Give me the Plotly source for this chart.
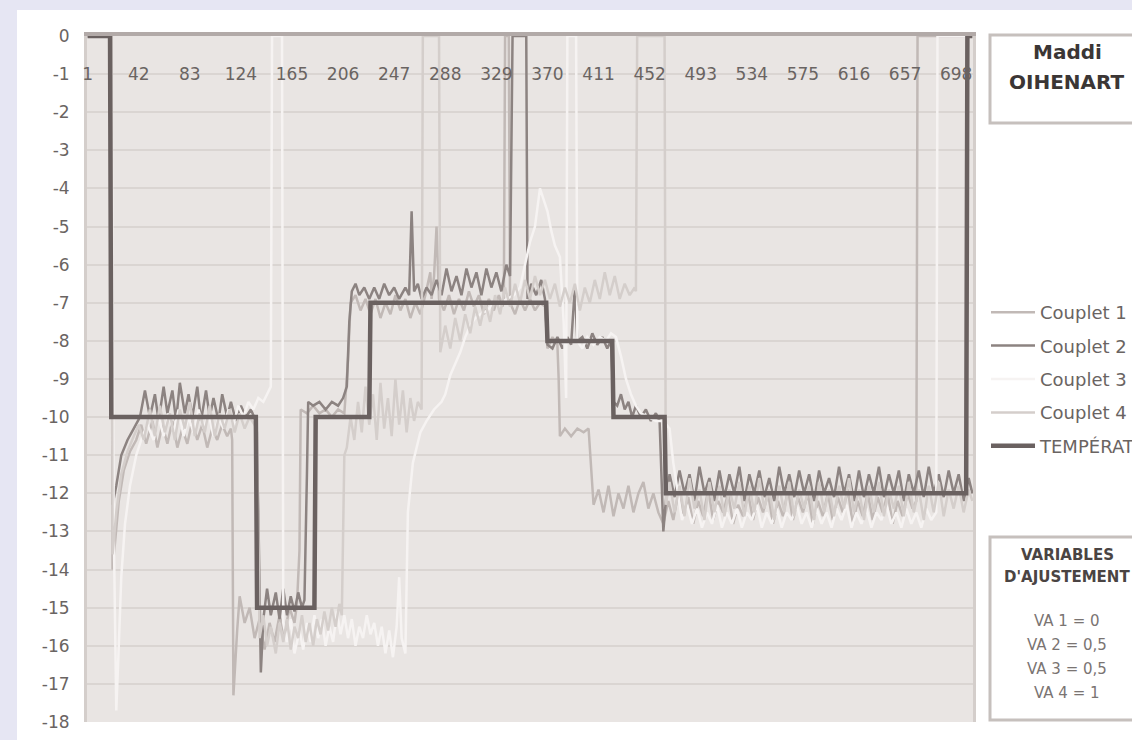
import plotly.graph_objects as go

W, H = 1132, 740

# ---- data -------------------------------------------------------------
x_tick_vals = [1, 42, 83, 124, 165, 206, 247, 288, 329, 370, 411, 452, 493, 534, 575, 616, 657, 698]
x_tick_text = [str(v) for v in x_tick_vals]
y_tick_vals = list(range(0, -19, -1))
y_tick_text = ["0", "-1", "-2", "-3", "-4", "-5", "-6", "-7", "-8", "-9", "-10",
               "-11", "-12", "-13", "-14", "-15", "-16", "-17", "-18"]

temp_x = [1, 19, 20, 136, 137, 183, 184, 227, 228, 369, 370, 422, 423, 464, 465, 706, 707, 711]
temp_y = [0, 0, -10, -10, -15, -15, -10, -10, -7, -7, -8, -8, -10, -10, -12, -12, 0, 0]

c1_x = [1, 20, 21, 23, 26, 30, 35, 40, 44, 48, 53, 57, 61, 65, 69, 73, 77, 81, 85, 89, 93, 97, 101, 105,
        109, 113, 116, 117, 118, 121, 123, 127, 131, 135, 139, 143, 147, 151, 155, 159, 163, 167, 169, 171,
        172, 177, 182, 187, 192, 197, 202, 207, 210, 212, 216, 220, 224, 228, 232, 236, 240, 244, 248, 252,
        256, 260, 264, 268, 272, 276, 277, 279, 281, 283, 287, 291, 295, 299, 303, 307, 311, 315, 319, 323,
        327, 331, 334, 335, 336, 339, 340, 344, 348, 352, 356, 360, 364, 368, 370, 374, 378, 379, 380, 384,
        389, 394, 399, 403, 405, 407, 411, 415, 419, 423, 427, 431, 435, 439, 443, 447, 451, 455, 459, 463,
        467, 471, 475, 479, 483, 487, 491, 495, 499, 503, 507, 511, 515, 519, 523, 527, 531, 535, 539, 543,
        547, 551, 555, 559, 563, 567, 571, 575, 579, 583, 587, 591, 595, 599, 603, 607, 611, 615, 619, 623,
        627, 631, 635, 639, 643, 647, 651, 655, 659, 663, 666, 667, 711]
c1_y = [0, 0, -14.0, -13.3, -12.2, -11.4, -10.9, -10.6, -10.2, -10.7, -10.1, -10.8, -10.2, -10.7, -10.1,
        -10.8, -10.3, -10.7, -10.1, -10.6, -10.2, -10.8, -10.3, -10.6, -10.2, -10.5, -10.3, -10.6, -17.3,
        -15.6, -14.7, -15.4, -15.0, -15.8, -15.3, -16.1, -15.4, -15.9, -15.2, -15.7, -15.0, -15.4, -14.9,
        -13.5, -9.8, -9.9, -9.7, -9.9, -9.8, -10.0, -9.8, -9.9, -8.5, -7.0, -6.8, -7.2, -6.9, -7.3, -6.9,
        -7.4, -7.0, -7.3, -6.8, -7.2, -6.9, -7.4, -7.0, -7.3, -6.8, -6.2, -6.9, -6.3, -5.0, -6.9, -7.2,
        -6.8, -7.3, -6.9, -7.2, -6.7, -7.1, -6.8, -7.3, -6.9, -7.2, -6.8, -7.1, -6.9, 0, 0, -7.0, -7.3,
        -6.9, -7.2, -6.9, -7.2, -7.0, -7.1, -8.2, -7.9, -8.1, -9.0, -10.5, -10.3, -10.5, -10.3, -10.4,
        -10.3, -11.2, -12.3, -11.9, -12.5, -11.8, -12.6, -12.0, -12.4, -11.8, -12.5, -12.0, -11.7, -12.4,
        -12.0, -12.5, -12.8, -12.2, -12.7, -12.0, -12.6, -12.1, -12.8, -12.2, -12.6, -11.9, -12.7, -12.2,
        -12.5, -12.0, -12.8, -12.3, -12.6, -12.0, -12.7, -12.1, -12.5, -12.0, -12.8, -12.2, -12.6, -11.9,
        -12.7, -12.1, -12.5, -12.0, -12.8, -12.2, -12.6, -12.0, -12.7, -12.1, -12.5, -11.9, -12.8, -12.2,
        -12.6, -12.0, -12.7, -12.1, -12.5, -12.0, -12.8, -12.2, -12.6, -12.0, -12.4, -12.2, 0, 0]

c2_x = [1, 20, 21, 24, 28, 33, 38, 43, 47, 51, 55, 58, 62, 65, 69, 72, 75, 79, 82, 85, 89, 92, 96, 99,
        102, 106, 109, 113, 116, 120, 124, 128, 132, 136, 138, 140, 142, 145, 148, 152, 155, 158, 161, 164,
        167, 170, 173, 175, 177, 178, 182, 187, 192, 197, 202, 206, 209, 211, 213, 216, 219, 223, 227, 231,
        235, 239, 243, 247, 251, 256, 259, 261, 263, 266, 269, 273, 277, 281, 285, 289, 293, 297, 301, 305,
        309, 313, 317, 321, 325, 329, 333, 337, 340, 342, 353, 354, 357, 361, 365, 368, 370, 374, 378, 382,
        386, 389, 392, 394, 398, 402, 406, 410, 414, 418, 421, 423, 426, 429, 432, 435, 438, 441, 445, 449,
        453, 457, 460, 463, 465, 468, 472, 476, 480, 484, 488, 492, 496, 500, 504, 508, 512, 516, 520, 524,
        528, 532, 536, 540, 544, 548, 552, 556, 560, 564, 568, 572, 576, 580, 584, 588, 592, 596, 600, 604,
        608, 612, 616, 620, 624, 628, 632, 636, 640, 644, 648, 652, 656, 660, 664, 668, 672, 676, 680, 684,
        688, 692, 696, 700, 704, 708, 711]
c2_y = [0, 0, -12.3, -11.8, -11.0, -10.6, -10.3, -10.0, -9.3, -10.0, -9.4, -10.1, -9.2, -9.9, -9.3, -10.1,
        -9.1, -9.9, -9.4, -10.0, -9.2, -10.1, -9.3, -10.0, -9.5, -10.1, -9.4, -10.0, -9.6, -10.1, -9.7,
        -10.0, -9.8, -10.1, -12.5, -16.7, -15.3, -14.5, -15.2, -14.6, -15.3, -14.5, -15.2, -14.7, -15.1,
        -14.6, -15.0, -14.8, -11.5, -9.6, -9.7, -9.6, -9.8, -9.6, -9.7, -9.5, -9.2, -7.5, -6.7, -6.5, -6.8,
        -6.6, -6.9, -6.6, -6.9, -6.5, -6.8, -6.6, -6.9, -6.6, -6.8, -4.6, -6.7, -6.5, -6.9, -6.6, -6.8,
        -6.4, -6.8, -6.1, -6.7, -6.3, -6.8, -6.1, -6.6, -6.2, -6.8, -6.1, -6.6, -6.2, -6.7, -6.0, -6.3, 0,
        0, -6.9, -6.5, -6.8, -6.4, -6.9, -8.1, -8.2, -7.9, -8.2, -7.9, -8.1, -6.6, -8.0, -7.9, -8.2, -7.8,
        -8.1, -7.9, -8.2, -8.0, -9.6, -9.7, -9.4, -9.8, -9.6, -10.0, -9.7, -10.0, -9.8, -10.1, -9.9, -10.1,
        -13.0, -12.2, -11.5, -12.1, -11.4, -12.0, -11.5, -12.2, -11.3, -12.0, -11.6, -12.2, -11.4, -12.1,
        -11.5, -12.0, -11.3, -12.2, -11.5, -12.0, -11.4, -12.1, -11.6, -12.2, -11.3, -12.0, -11.5, -12.1,
        -11.4, -12.0, -11.5, -12.2, -11.4, -12.0, -11.6, -12.1, -11.3, -12.0, -11.5, -12.2, -11.4, -12.1,
        -11.5, -12.0, -11.3, -12.1, -11.5, -12.0, -11.4, -12.2, -11.5, -12.0, -11.4, -12.1, -11.3, -12.0,
        -11.5, -12.1, -11.4, -12.0, -11.5, -12.2, -11.6, -12.0]

c3_x = [1, 20, 22, 24, 26, 28, 31, 35, 40, 45, 49, 54, 58, 62, 66, 70, 74, 78, 82, 86, 90, 94, 98, 102,
        106, 110, 114, 118, 122, 126, 130, 134, 138, 142, 145, 148, 149, 157, 158, 161, 164, 167, 171, 174,
        177, 180, 183, 186, 189, 192, 195, 198, 201, 204, 207, 210, 213, 216, 219, 222, 225, 228, 231, 234,
        237, 240, 243, 246, 249, 251, 253, 256, 258, 262, 268, 273, 279, 285, 288, 292, 296, 300, 304, 308,
        312, 316, 322, 327, 332, 338, 343, 348, 352, 356, 360, 362, 364, 367, 370, 373, 376, 380, 383, 385,
        386, 393, 394, 398, 402, 407, 412, 417, 421, 425, 429, 433, 437, 441, 445, 451, 457, 463, 468, 471,
        475, 478, 482, 486, 490, 494, 498, 502, 506, 510, 514, 518, 522, 526, 530, 534, 538, 542, 546, 550,
        554, 558, 562, 566, 570, 574, 578, 582, 586, 590, 594, 598, 602, 606, 610, 614, 618, 622, 626, 630,
        634, 638, 642, 646, 650, 654, 658, 662, 666, 670, 674, 678, 682, 683, 711]
c3_y = [0, 0, -13.0, -17.7, -16.0, -14.2, -12.8, -11.8, -11.0, -10.5, -10.2, -10.6, -10.0, -10.5, -9.9,
        -10.4, -9.8, -10.5, -10.0, -10.4, -9.8, -10.3, -9.9, -10.5, -10.0, -10.3, -9.8, -10.2, -9.7, -10.0,
        -9.6, -9.8, -9.5, -9.6, -9.4, -9.2, 0, 0, -15.4, -15.9, -15.3, -16.2, -15.6, -16.1, -15.4, -15.9,
        -15.2, -15.8, -15.3, -16.0, -15.5, -15.9, -15.1, -15.7, -15.2, -15.8, -15.3, -16.0, -15.5, -15.8,
        -15.2, -15.7, -15.4, -16.0, -15.5, -16.2, -15.6, -16.3, -15.5, -14.2, -15.8, -16.2, -12.5, -11.2,
        -10.4, -10.1, -9.8, -9.6, -9.4, -8.9, -8.6, -8.3, -7.9, -7.6, -7.4, -7.3, -7.2, -7.0, -7.0, -6.9,
        -6.8, -6.6, -6.0, -5.4, -5.0, -4.5, -4.0, -4.3, -4.6, -5.1, -5.5, -5.8, -7.5, -9.5, 0, 0, -8.0,
        -8.2, -7.9, -8.1, -7.9, -8.0, -7.8, -7.9, -8.4, -9.0, -9.4, -9.7, -9.9, -10.0, -10.1, -10.1, -10.3,
        -11.2, -12.0, -12.7, -12.3, -12.8, -12.4, -12.9, -12.5, -12.8, -12.3, -12.9, -12.5, -12.8, -12.4,
        -12.9, -12.5, -12.7, -12.3, -12.9, -12.5, -12.8, -12.4, -12.9, -12.5, -12.7, -12.3, -12.8, -12.5,
        -12.9, -12.4, -12.8, -12.5, -12.9, -12.4, -12.7, -12.3, -12.9, -12.5, -12.8, -12.4, -12.9, -12.5,
        -12.7, -12.3, -12.8, -12.5, -12.9, -12.4, -12.8, -12.5, -12.9, -12.4, -12.7, -12.5, 0, 0]

c4_x = [1, 20, 21, 24, 28, 33, 38, 42, 46, 51, 55, 59, 63, 67, 71, 75, 79, 83, 87, 91, 95, 99, 103, 107,
        111, 115, 119, 123, 127, 131, 135, 137, 139, 142, 145, 148, 152, 155, 158, 161, 164, 167, 170, 173,
        176, 179, 182, 185, 188, 191, 194, 197, 200, 203, 205, 207, 209, 212, 215, 218, 221, 224, 227, 230,
        233, 236, 239, 242, 245, 248, 251, 254, 257, 260, 263, 266, 269, 270, 283, 284, 288, 292, 296, 300,
        304, 308, 312, 316, 320, 324, 328, 332, 336, 340, 344, 348, 352, 356, 360, 364, 368, 372, 376, 380,
        384, 388, 392, 396, 400, 404, 408, 412, 416, 420, 424, 428, 432, 436, 440, 441, 442, 464, 465, 468,
        472, 476, 480, 484, 488, 492, 496, 500, 504, 508, 512, 516, 520, 524, 528, 532, 536, 540, 544, 548,
        552, 556, 560, 564, 568, 572, 576, 580, 584, 588, 592, 596, 600, 604, 608, 612, 616, 620, 624, 628,
        632, 636, 640, 644, 648, 652, 656, 660, 664, 668, 672, 676, 680, 684, 688, 692, 696, 700, 704, 708,
        711]
c4_y = [0, 0, -13.6, -12.5, -11.5, -10.9, -10.5, -10.2, -10.6, -9.8, -10.5, -9.7, -10.4, -9.9, -10.6,
        -9.8, -10.3, -9.6, -10.5, -9.9, -10.4, -9.7, -10.5, -9.9, -10.3, -9.8, -10.4, -9.9, -10.3, -10.0,
        -10.2, -10.4, -15.8, -15.2, -16.0, -15.5, -16.2, -15.4, -15.9, -15.3, -16.1, -15.5, -15.8, -15.2,
        -15.9, -15.4, -16.0, -15.3, -15.7, -15.1, -15.6, -15.0, -15.5, -14.9, -15.2, -11.0, -10.8, -10.0,
        -10.6, -9.6, -10.4, -9.2, -10.2, -9.4, -10.6, -9.1, -10.3, -9.5, -10.5, -9.0, -10.2, -9.3, -10.4,
        -9.5, -10.1, -9.6, -9.8, 0, 0, -8.3, -7.6, -8.2, -7.4, -8.0, -7.3, -7.8, -7.1, -7.6, -7.0, -7.5,
        -6.8, -7.3, -6.6, -7.1, -6.5, -7.0, -6.4, -6.9, -6.3, -6.8, -6.4, -6.9, -6.5, -7.1, -6.6, -7.0,
        -6.5, -7.2, -6.6, -7.0, -6.4, -6.9, -6.2, -6.8, -6.3, -6.9, -6.5, -6.8, -6.6, -6.7, 0, 0, -12.3,
        -11.7, -12.5, -11.8, -12.6, -11.6, -12.4, -11.9, -12.7, -11.7, -12.5, -11.8, -12.6, -11.9, -12.4,
        -11.7, -12.6, -11.8, -12.5, -11.6, -12.4, -11.9, -12.7, -11.8, -12.5, -11.7, -12.6, -11.9, -12.4,
        -11.8, -12.7, -11.7, -12.5, -11.9, -12.6, -11.8, -12.4, -11.6, -12.5, -11.9, -12.7, -11.8, -12.5,
        -11.7, -12.6, -11.9, -12.4, -11.8, -12.6, -11.7, -12.5, -11.9, -12.7, -11.8, -12.5, -11.7, -12.6,
        -11.9, -12.4, -11.8, -12.5, -11.9, -12.2]

series_names = ["Couplet 1", "Couplet 2", "Couplet 3", "Couplet 4", "TEMPÉRATURE"]

title_lines = ["Maddi", "OIHENART"]
va_title = ["VARIABLES", "D'AJUSTEMENT"]
va_lines = ["VA 1 = 0", "VA 2 = 0,5", "VA 3 = 0,5", "VA 4 = 1"]

# ---- styling ----------------------------------------------------------
FONT = "DejaVu Sans"
TXT = "#6a6462"
colors = ["#c1b9b6", "#8c8381", "#f6f3f2", "#d4cecb", "#6a6160"]
widths = [2.5, 2.5, 2.5, 2.5, 4.5]


def px(x):
    return x / W


def py(y):
    return 1 - y / H


fig = go.Figure()
series = [(c1_x, c1_y), (c2_x, c2_y), (c3_x, c3_y), (c4_x, c4_y), (temp_x, temp_y)]
for k, ((xs, ys), name) in enumerate(zip(series, series_names)):
    fig.add_trace(go.Scatter(
        x=xs, y=ys, name=name, mode="lines",
        line=dict(color=colors[k], width=widths[k]),
        xaxis="x2" if k == 4 else "x", yaxis="y",
        legendgroup=name, hoverinfo="skip",
    ))

x_range = [0.5, 711.5]
fig.update_layout(
    width=W, height=H,
    margin=dict(l=0, r=0, t=0, b=0, autoexpand=False),
    paper_bgcolor="white",
    plot_bgcolor="#e9e5e3",
    font=dict(family=FONT, size=17, color=TXT),
    showlegend=True,
    legend=dict(
        x=px(986), y=py(294), xanchor="left", yanchor="top",
        bgcolor="rgba(0,0,0,0)", font=dict(family=FONT, size=18, color=TXT),
        itemwidth=44, tracegroupgap=7, traceorder="grouped",
    ),
    xaxis=dict(
        domain=[px(87), px(973)], range=x_range, side="top", anchor="y",
        showline=True, linecolor="#b2aaa8", linewidth=4,
        showgrid=False, zeroline=False, ticks="", showticklabels=False,
    ),
    xaxis2=dict(
        overlaying="x", range=x_range, anchor="free", position=py(62), side="bottom",
        showline=False, showgrid=False, zeroline=False, ticks="",
        tickmode="array", tickvals=x_tick_vals, ticktext=x_tick_text,
        tickfont=dict(family=FONT, size=17, color=TXT),
    ),
    yaxis=dict(
        domain=[py(722), py(36)], range=[-18, 0],
        tickmode="array", tickvals=y_tick_vals, ticktext=y_tick_text,
        tickfont=dict(family=FONT, size=17, color=TXT),
        showgrid=True, gridcolor="#dad5d2", gridwidth=2,
        showline=True, linecolor="#d4cecb", linewidth=3, mirror=True,
        zeroline=False, ticks="", ticklabelstandoff=11,
    ),
)

shapes = [
    # lavender frame around the white chart sheet
    dict(type="rect", xref="paper", yref="paper", x0=0, x1=1, y0=py(10), y1=1,
         fillcolor="#e6e6f3", line=dict(width=0), layer="above"),
    dict(type="rect", xref="paper", yref="paper", x0=0, x1=px(17), y0=0, y1=1,
         fillcolor="#e6e6f3", line=dict(width=0), layer="above"),
    # name box and adjustment-variable box
    dict(type="rect", xref="paper", yref="paper", x0=px(990), x1=px(1160), y0=py(123), y1=py(35),
         fillcolor="white", line=dict(color="#c6c0bd", width=3), layer="above"),
    dict(type="rect", xref="paper", yref="paper", x0=px(990), x1=px(1160), y0=py(720), y1=py(537),
         fillcolor="white", line=dict(color="#c6c0bd", width=3), layer="above"),
]
fig.update_layout(shapes=shapes)

ann = []
for text, yy in zip(title_lines, [52, 82]):
    ann.append(dict(text=f"<b>{text}</b>", x=px(1067), y=py(yy), xref="paper", yref="paper",
                    showarrow=False, xanchor="center", yanchor="middle",
                    font=dict(family=FONT, size=20, color="#3b3635")))
for text, yy in zip(va_title, [555, 577]):
    ann.append(dict(text=f"<b>{text}</b>", x=px(1067), y=py(yy), xref="paper", yref="paper",
                    showarrow=False, xanchor="center", yanchor="middle",
                    font=dict(family=FONT, size=15, color="#4a4443")))
for text, yy in zip(va_lines, [621, 645, 669, 693]):
    ann.append(dict(text=text, x=px(1067), y=py(yy), xref="paper", yref="paper",
                    showarrow=False, xanchor="center", yanchor="middle",
                    font=dict(family=FONT, size=15, color="#7a7472")))
fig.update_layout(annotations=ann)

fig.write_html("out.html")
